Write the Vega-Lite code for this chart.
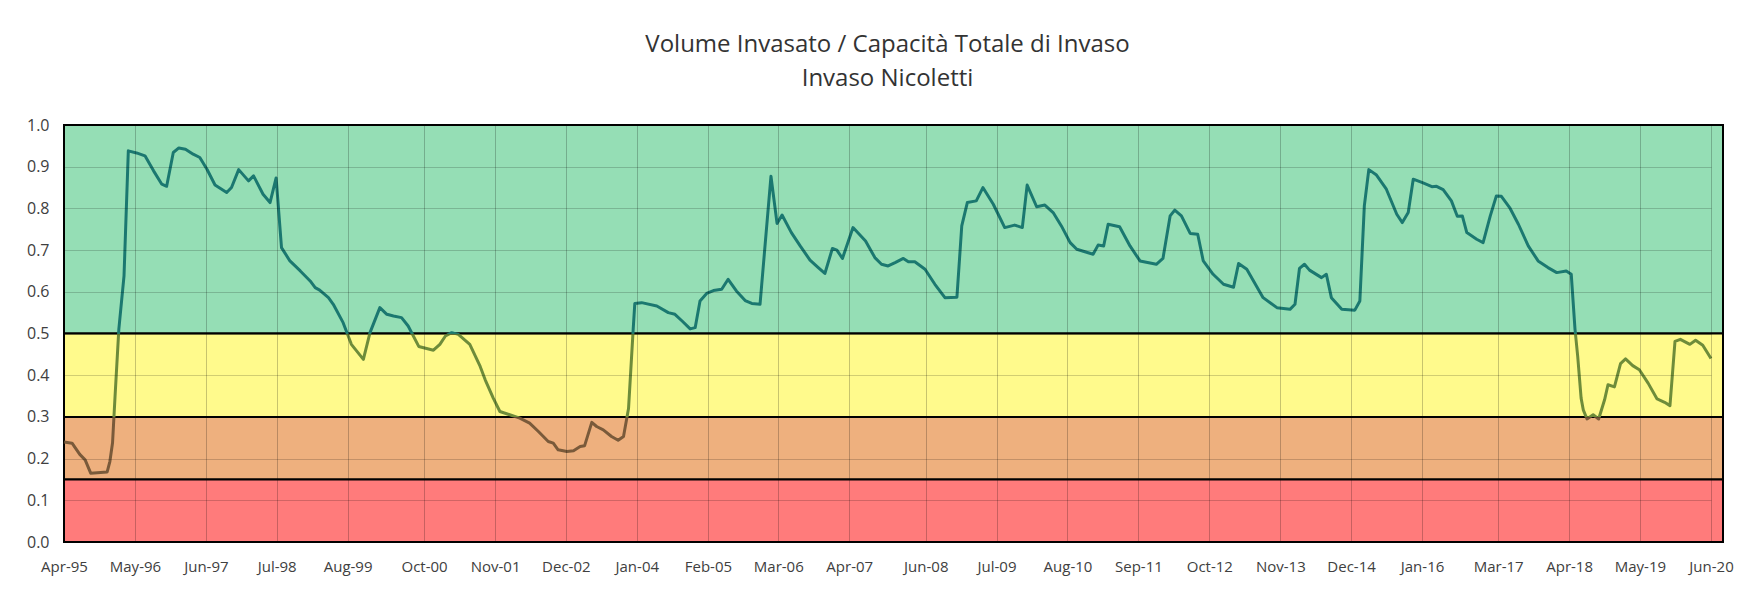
{
  "$schema": "https://vega.github.io/schema/vega-lite/v6.json",
  "width": 1647,
  "height": 417,
  "autosize": {"type": "none"},
  "padding": {"left": 64, "top": 125, "right": 42, "bottom": 49},
  "background": "white",
  "title": {
    "text": ["Volume Invasato / Capacità Totale di Invaso", "Invaso Nicoletti"],
    "font": "Open Sans",
    "fontSize": 24,
    "fontWeight": "normal",
    "color": "#333333",
    "lineHeight": 34,
    "offset": 26,
    "anchor": "middle"
  },
  "config": {
    "view": {"stroke": null},
    "axis": {"labelFont": "Open Sans", "labelColor": "#404040", "ticks": false, "domain": false, "title": null}
  },
  "datasets": {
    "bands": [
      {"start": "1995-04-01", "end": "2020-08-07", "lo": 0.5, "hi": 1.0, "zone": "verde"},
      {"start": "1995-04-01", "end": "2020-08-07", "lo": 0.3, "hi": 0.5, "zone": "giallo"},
      {"start": "1995-04-01", "end": "2020-08-07", "lo": 0.15, "hi": 0.3, "zone": "arancio"},
      {"start": "1995-04-01", "end": "2020-08-07", "lo": 0.0, "hi": 0.15, "zone": "rosso"}
    ],
    "series": [
      {"d": "1995-04-01", "v": 0.24}, {"d": "1995-05-16", "v": 0.237}, {"d": "1995-06-28", "v": 0.21}, {"d": "1995-07-28", "v": 0.197},
      {"d": "1995-08-28", "v": 0.165}, {"d": "1995-11-28", "v": 0.168}, {"d": "1995-12-13", "v": 0.193}, {"d": "1995-12-28", "v": 0.238},
      {"d": "1996-01-11", "v": 0.35}, {"d": "1996-02-01", "v": 0.51}, {"d": "1996-03-01", "v": 0.638}, {"d": "1996-03-25", "v": 0.938},
      {"d": "1996-05-10", "v": 0.933}, {"d": "1996-06-26", "v": 0.926}, {"d": "1996-08-13", "v": 0.89}, {"d": "1996-09-28", "v": 0.858},
      {"d": "1996-10-25", "v": 0.853}, {"d": "1996-12-01", "v": 0.934}, {"d": "1997-01-01", "v": 0.945}, {"d": "1997-02-07", "v": 0.942},
      {"d": "1997-03-22", "v": 0.93}, {"d": "1997-04-28", "v": 0.922}, {"d": "1997-06-07", "v": 0.894}, {"d": "1997-07-22", "v": 0.856},
      {"d": "1997-09-25", "v": 0.838}, {"d": "1997-10-22", "v": 0.85}, {"d": "1997-12-01", "v": 0.893}, {"d": "1998-01-25", "v": 0.866},
      {"d": "1998-02-22", "v": 0.878}, {"d": "1998-04-16", "v": 0.834}, {"d": "1998-05-25", "v": 0.814}, {"d": "1998-06-28", "v": 0.873},
      {"d": "1998-07-28", "v": 0.706}, {"d": "1998-09-13", "v": 0.674}, {"d": "1998-11-10", "v": 0.65}, {"d": "1999-01-04", "v": 0.626},
      {"d": "1999-02-01", "v": 0.61}, {"d": "1999-02-26", "v": 0.604}, {"d": "1999-04-16", "v": 0.586}, {"d": "1999-05-13", "v": 0.57},
      {"d": "1999-07-07", "v": 0.526}, {"d": "1999-08-22", "v": 0.474}, {"d": "1999-10-28", "v": 0.438}, {"d": "1999-12-04", "v": 0.502},
      {"d": "2000-01-28", "v": 0.562}, {"d": "2000-03-07", "v": 0.546}, {"d": "2000-04-13", "v": 0.542}, {"d": "2000-05-28", "v": 0.538},
      {"d": "2000-07-04", "v": 0.518}, {"d": "2000-09-01", "v": 0.469}, {"d": "2000-11-22", "v": 0.46}, {"d": "2000-12-28", "v": 0.474},
      {"d": "2001-01-28", "v": 0.494}, {"d": "2001-03-04", "v": 0.502}, {"d": "2001-04-10", "v": 0.498}, {"d": "2001-06-13", "v": 0.474},
      {"d": "2001-08-10", "v": 0.421}, {"d": "2001-09-07", "v": 0.389}, {"d": "2001-10-22", "v": 0.345}, {"d": "2001-11-28", "v": 0.313},
      {"d": "2002-03-19", "v": 0.297}, {"d": "2002-05-13", "v": 0.285}, {"d": "2002-07-01", "v": 0.265}, {"d": "2002-08-25", "v": 0.241},
      {"d": "2002-09-22", "v": 0.237}, {"d": "2002-10-19", "v": 0.221}, {"d": "2002-12-07", "v": 0.217}, {"d": "2003-01-13", "v": 0.219},
      {"d": "2003-02-19", "v": 0.229}, {"d": "2003-03-16", "v": 0.231}, {"d": "2003-04-25", "v": 0.287}, {"d": "2003-05-22", "v": 0.277},
      {"d": "2003-06-28", "v": 0.269}, {"d": "2003-08-13", "v": 0.253}, {"d": "2003-09-19", "v": 0.244}, {"d": "2003-10-19", "v": 0.253},
      {"d": "2003-11-16", "v": 0.32}, {"d": "2003-12-12", "v": 0.51}, {"d": "2003-12-21", "v": 0.572}, {"d": "2004-01-28", "v": 0.574},
      {"d": "2004-04-22", "v": 0.566}, {"d": "2004-06-25", "v": 0.55}, {"d": "2004-08-01", "v": 0.546}, {"d": "2004-09-10", "v": 0.53},
      {"d": "2004-10-25", "v": 0.511}, {"d": "2004-11-22", "v": 0.514}, {"d": "2004-12-19", "v": 0.578}, {"d": "2005-01-25", "v": 0.596},
      {"d": "2005-03-04", "v": 0.603}, {"d": "2005-04-19", "v": 0.606}, {"d": "2005-05-25", "v": 0.63}, {"d": "2005-07-10", "v": 0.602},
      {"d": "2005-08-28", "v": 0.579}, {"d": "2005-10-04", "v": 0.572}, {"d": "2005-11-19", "v": 0.57}, {"d": "2006-01-19", "v": 0.877},
      {"d": "2006-02-22", "v": 0.764}, {"d": "2006-03-22", "v": 0.784}, {"d": "2006-05-13", "v": 0.742}, {"d": "2006-07-01", "v": 0.71},
      {"d": "2006-08-25", "v": 0.676}, {"d": "2006-10-10", "v": 0.658}, {"d": "2006-11-16", "v": 0.644}, {"d": "2006-12-28", "v": 0.704},
      {"d": "2007-01-22", "v": 0.7}, {"d": "2007-02-22", "v": 0.68}, {"d": "2007-04-22", "v": 0.754}, {"d": "2007-07-01", "v": 0.722},
      {"d": "2007-08-22", "v": 0.682}, {"d": "2007-09-28", "v": 0.666}, {"d": "2007-11-04", "v": 0.662}, {"d": "2007-12-13", "v": 0.67},
      {"d": "2008-01-28", "v": 0.68}, {"d": "2008-02-25", "v": 0.672}, {"d": "2008-04-01", "v": 0.672}, {"d": "2008-05-28", "v": 0.654},
      {"d": "2008-07-22", "v": 0.618}, {"d": "2008-09-16", "v": 0.586}, {"d": "2008-11-22", "v": 0.587}, {"d": "2008-12-19", "v": 0.758},
      {"d": "2009-01-19", "v": 0.814}, {"d": "2009-03-10", "v": 0.818}, {"d": "2009-04-16", "v": 0.85}, {"d": "2009-06-13", "v": 0.81},
      {"d": "2009-08-16", "v": 0.754}, {"d": "2009-10-10", "v": 0.76}, {"d": "2009-11-22", "v": 0.754}, {"d": "2009-12-19", "v": 0.856},
      {"d": "2010-02-10", "v": 0.804}, {"d": "2010-03-28", "v": 0.808}, {"d": "2010-05-13", "v": 0.79}, {"d": "2010-06-28", "v": 0.758},
      {"d": "2010-08-16", "v": 0.718}, {"d": "2010-09-22", "v": 0.702}, {"d": "2010-12-22", "v": 0.69}, {"d": "2011-01-19", "v": 0.712},
      {"d": "2011-02-19", "v": 0.71}, {"d": "2011-03-16", "v": 0.762}, {"d": "2011-05-19", "v": 0.756}, {"d": "2011-07-16", "v": 0.71},
      {"d": "2011-09-10", "v": 0.674}, {"d": "2011-12-10", "v": 0.666}, {"d": "2012-01-16", "v": 0.68}, {"d": "2012-02-25", "v": 0.782},
      {"d": "2012-03-22", "v": 0.796}, {"d": "2012-04-28", "v": 0.782}, {"d": "2012-06-16", "v": 0.74}, {"d": "2012-07-28", "v": 0.738},
      {"d": "2012-08-28", "v": 0.674}, {"d": "2012-10-22", "v": 0.642}, {"d": "2012-12-19", "v": 0.618}, {"d": "2013-02-13", "v": 0.611},
      {"d": "2013-03-13", "v": 0.668}, {"d": "2013-04-28", "v": 0.654}, {"d": "2013-07-28", "v": 0.586}, {"d": "2013-10-13", "v": 0.562},
      {"d": "2013-12-25", "v": 0.558}, {"d": "2014-01-22", "v": 0.57}, {"d": "2014-02-16", "v": 0.656}, {"d": "2014-03-16", "v": 0.666},
      {"d": "2014-04-13", "v": 0.652}, {"d": "2014-06-19", "v": 0.634}, {"d": "2014-07-16", "v": 0.642}, {"d": "2014-08-13", "v": 0.586},
      {"d": "2014-10-10", "v": 0.558}, {"d": "2014-12-22", "v": 0.556}, {"d": "2015-01-19", "v": 0.578}, {"d": "2015-02-13", "v": 0.806},
      {"d": "2015-03-10", "v": 0.893}, {"d": "2015-04-22", "v": 0.88}, {"d": "2015-06-16", "v": 0.846}, {"d": "2015-08-13", "v": 0.786},
      {"d": "2015-09-13", "v": 0.766}, {"d": "2015-10-16", "v": 0.79}, {"d": "2015-11-13", "v": 0.87}, {"d": "2016-01-07", "v": 0.861},
      {"d": "2016-02-25", "v": 0.852}, {"d": "2016-03-22", "v": 0.853}, {"d": "2016-04-28", "v": 0.845}, {"d": "2016-06-13", "v": 0.818},
      {"d": "2016-07-16", "v": 0.781}, {"d": "2016-08-13", "v": 0.782}, {"d": "2016-09-07", "v": 0.742}, {"d": "2016-11-01", "v": 0.726},
      {"d": "2016-12-07", "v": 0.718}, {"d": "2017-01-16", "v": 0.782}, {"d": "2017-02-19", "v": 0.83}, {"d": "2017-03-19", "v": 0.829},
      {"d": "2017-05-04", "v": 0.802}, {"d": "2017-06-22", "v": 0.762}, {"d": "2017-08-16", "v": 0.71}, {"d": "2017-10-10", "v": 0.674},
      {"d": "2017-12-04", "v": 0.658}, {"d": "2018-01-22", "v": 0.646}, {"d": "2018-03-16", "v": 0.65}, {"d": "2018-04-13", "v": 0.642},
      {"d": "2018-05-04", "v": 0.51}, {"d": "2018-05-19", "v": 0.445}, {"d": "2018-06-07", "v": 0.345}, {"d": "2018-06-19", "v": 0.317},
      {"d": "2018-07-10", "v": 0.295}, {"d": "2018-08-13", "v": 0.305}, {"d": "2018-09-13", "v": 0.295}, {"d": "2018-10-16", "v": 0.341},
      {"d": "2018-11-04", "v": 0.377}, {"d": "2018-12-10", "v": 0.372}, {"d": "2019-01-13", "v": 0.428}, {"d": "2019-02-10", "v": 0.439},
      {"d": "2019-03-22", "v": 0.423}, {"d": "2019-04-28", "v": 0.413}, {"d": "2019-06-16", "v": 0.381}, {"d": "2019-08-05", "v": 0.343},
      {"d": "2019-09-16", "v": 0.335}, {"d": "2019-10-16", "v": 0.327}, {"d": "2019-11-13", "v": 0.481}, {"d": "2019-12-13", "v": 0.486},
      {"d": "2020-02-04", "v": 0.474}, {"d": "2020-03-07", "v": 0.484}, {"d": "2020-04-16", "v": 0.472}, {"d": "2020-06-01", "v": 0.44}
    ]
  },
  "encoding": {
    "x": {
      "field": "d",
      "type": "temporal",
      "scale": {"domain": [{"year": 1995, "month": 4, "date": 1}, {"year": 2020, "month": 6, "date": 1}]},
      "axis": {
        "format": "%b-%y",
        "labelFontSize": 15,
        "labelPadding": 17,
        "labelAlign": "center",
        "labelOverlap": false,
        "zindex": 1,
        "grid": true,
        "gridColor": "#000000",
        "gridOpacity": 0.22,
        "values": [
          {"year": 1995, "month": 4, "date": 1}, {"year": 1996, "month": 5, "date": 1}, {"year": 1997, "month": 6, "date": 1},
          {"year": 1998, "month": 7, "date": 1}, {"year": 1999, "month": 8, "date": 1}, {"year": 2000, "month": 10, "date": 1},
          {"year": 2001, "month": 11, "date": 1}, {"year": 2002, "month": 12, "date": 1}, {"year": 2004, "month": 1, "date": 1},
          {"year": 2005, "month": 2, "date": 1}, {"year": 2006, "month": 3, "date": 1}, {"year": 2007, "month": 4, "date": 1},
          {"year": 2008, "month": 6, "date": 1}, {"year": 2009, "month": 7, "date": 1}, {"year": 2010, "month": 8, "date": 1},
          {"year": 2011, "month": 9, "date": 1}, {"year": 2012, "month": 10, "date": 1}, {"year": 2013, "month": 11, "date": 1},
          {"year": 2014, "month": 12, "date": 1}, {"year": 2016, "month": 1, "date": 1}, {"year": 2017, "month": 3, "date": 1},
          {"year": 2018, "month": 4, "date": 1}, {"year": 2019, "month": 5, "date": 1}, {"year": 2020, "month": 6, "date": 1}
        ]
      }
    },
    "y": {
      "type": "quantitative",
      "scale": {"domain": [0, 1], "nice": false, "zero": true},
      "axis": {"values": [0, 0.1, 0.2, 0.3, 0.4, 0.5, 0.6, 0.7, 0.8, 0.9, 1.0], "format": ".1f", "labelFontSize": 16, "labelPadding": 15, "zindex": 1, "grid": true, "gridColor": "#000000", "gridOpacity": 0.18}
    }
  },
  "layer": [
    {
      "data": {"name": "bands"},
      "mark": {"type": "rect", "stroke": "#000000", "strokeWidth": 2},
      "encoding": {
        "x": {"field": "start", "type": "temporal"},
        "x2": {"field": "end"},
        "y": {"field": "lo", "type": "quantitative"},
        "y2": {"field": "hi"},
        "color": {
          "field": "zone",
          "type": "nominal",
          "scale": {"domain": ["verde", "giallo", "arancio", "rosso"], "range": ["#95DEB5", "#FFFA8C", "#EEB07E", "#FF7B7B"]},
          "legend": null
        }
      }
    },
    {
      "data": {"name": "series"},
      "mark": {
        "type": "line",
        "strokeWidth": 3,
        "strokeJoin": "round",
        "stroke": {
          "gradient": "linear",
          "x1": 0, "y1": 0, "x2": 0, "y2": 1,
          "stops": [
            {"offset": 0, "color": "#1B7870"},
            {"offset": 0.5705, "color": "#1B7870"},
            {"offset": 0.5706, "color": "#6E8C3A"},
            {"offset": 0.8269, "color": "#6E8C3A"},
            {"offset": 0.827, "color": "#7A5A3A"},
            {"offset": 1, "color": "#7A5A3A"}
          ]
        }
      },
      "encoding": {
        "x": {"field": "d", "type": "temporal"},
        "y": {"field": "v", "type": "quantitative"}
      }
    }
  ]
}
